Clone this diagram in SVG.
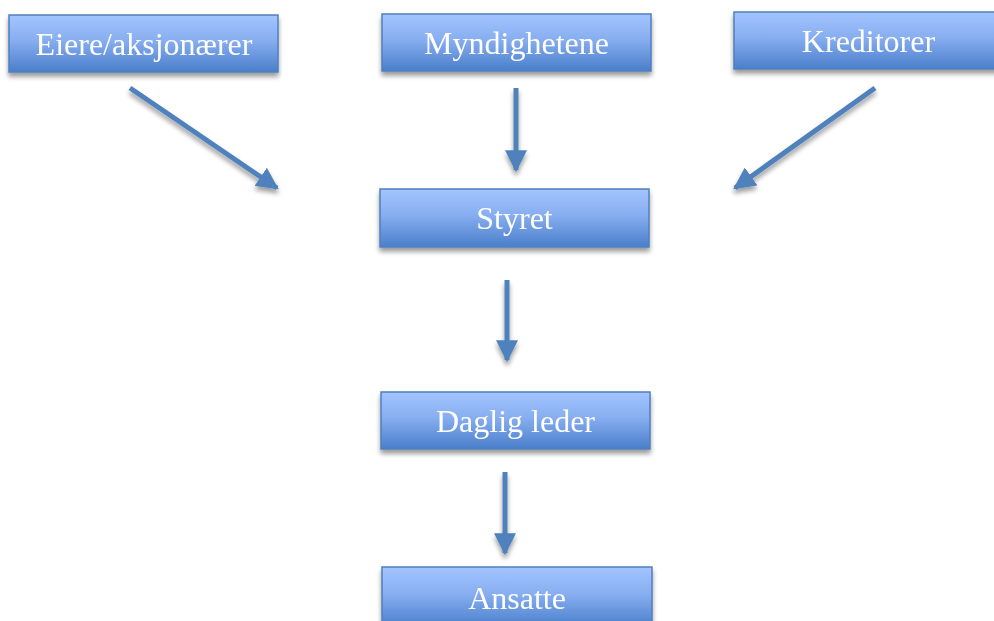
<svg xmlns="http://www.w3.org/2000/svg" width="994" height="621" viewBox="0 0 994 621">
  <defs>
    <linearGradient id="boxFill" x1="0" y1="0" x2="0" y2="1">
      <stop offset="0" stop-color="#a3c4ff"/>
      <stop offset="0.45" stop-color="#87aef0"/>
      <stop offset="1" stop-color="#4a7fcb"/>
    </linearGradient>
    <filter id="shadow" x="-10%" y="-20%" width="120%" height="160%">
      <feGaussianBlur in="SourceAlpha" stdDeviation="2.5"/>
      <feOffset dx="0" dy="4" result="b"/>
      <feComponentTransfer><feFuncA type="linear" slope="0.4"/></feComponentTransfer>
      <feMerge><feMergeNode/><feMergeNode in="SourceGraphic"/></feMerge>
    </filter>
    <marker id="head" viewBox="0 0 10 10" refX="9" refY="5" markerWidth="4.4" markerHeight="4.4" orient="auto" markerUnits="strokeWidth">
      <path d="M0,0 L10,5 L0,10 z" fill="#4f81bd"/>
    </marker>
  </defs>
  <style>
    .box { fill: url(#boxFill); stroke: #4f7fbf; stroke-width: 1.5; }
    .label { font-family: "Liberation Serif", "Times New Roman", serif; font-size: 32px; fill: #ffffff; text-anchor: middle; }
    .conn { stroke: #4f81bd; stroke-width: 5; fill: none; marker-end: url(#head); }
  </style>

  <g id="eiere" filter="url(#shadow)">
    <rect class="box" x="9" y="15" width="269" height="57"/>
    <text class="label" x="144" y="55">Eiere/aksjonærer</text>
  </g>
  <g id="myndighetene" filter="url(#shadow)">
    <rect class="box" x="382" y="14" width="269" height="57"/>
    <text class="label" x="516.5" y="54">Myndighetene</text>
  </g>
  <g id="kreditorer" filter="url(#shadow)">
    <rect class="box" x="734" y="12" width="269" height="57"/>
    <text class="label" x="868.5" y="52">Kreditorer</text>
  </g>
  <g id="styret" filter="url(#shadow)">
    <rect class="box" x="380" y="189" width="269" height="58"/>
    <text class="label" x="514.5" y="229">Styret</text>
  </g>
  <g id="daglig-leder" filter="url(#shadow)">
    <rect class="box" x="381" y="392" width="269" height="57"/>
    <text class="label" x="515.5" y="432">Daglig leder</text>
  </g>
  <g id="ansatte" filter="url(#shadow)">
    <rect class="box" x="382" y="567" width="270" height="60"/>
    <text class="label" x="517" y="609">Ansatte</text>
  </g>

  <g id="connectors" filter="url(#shadow)">
    <line class="conn" x1="130" y1="88" x2="277" y2="188"/>
    <line class="conn" x1="516" y1="88" x2="516" y2="170"/>
    <line class="conn" x1="875" y1="88" x2="735" y2="188"/>
    <line class="conn" x1="507" y1="280" x2="507" y2="360"/>
    <line class="conn" x1="505" y1="472" x2="505" y2="553"/>
  </g>
</svg>
